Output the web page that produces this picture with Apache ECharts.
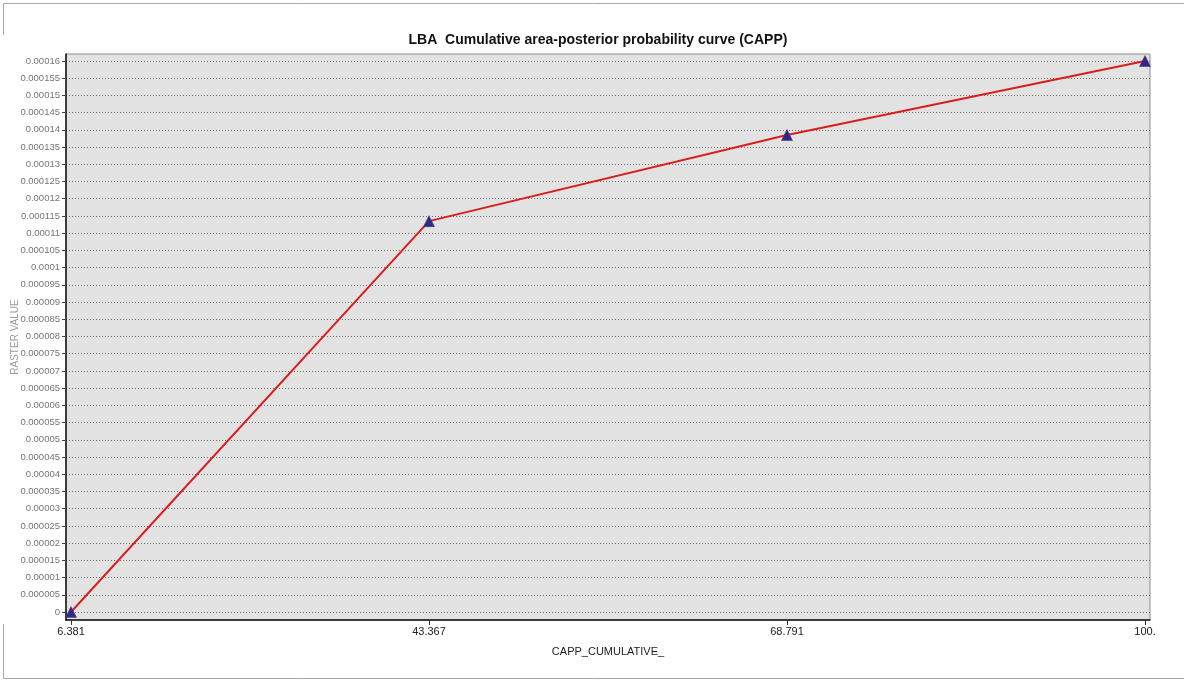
<!DOCTYPE html>
<html>
<head>
<meta charset="utf-8">
<script src="https://cdn.jsdelivr.net/npm/echarts@6/dist/echarts.min.js"></script>
<style>
  html, body { margin: 0; padding: 0; background: #ffffff; }
  #chart { width: 1184px; height: 680px; }
</style>
</head>
<body>
<div id="chart"></div>
<script>
// CAPP curve: cumulative area (category positions) against raster value
const capLabels = ['6.381', '43.367', '68.791', '100.'];
const rasterValues = [0, 0.0001135, 0.0001385, 0.00016];
const yTickLabels = [
  '0', '0.000005', '0.00001', '0.000015', '0.00002', '0.000025', '0.00003',
  '0.000035', '0.00004', '0.000045', '0.00005', '0.000055', '0.00006',
  '0.000065', '0.00007', '0.000075', '0.00008', '0.000085', '0.00009',
  '0.000095', '0.0001', '0.000105', '0.00011', '0.000115', '0.00012',
  '0.000125', '0.00013', '0.000135', '0.00014', '0.000145', '0.00015',
  '0.000155', '0.00016'
];

const yTickValues = yTickLabels.map(Number);
const xIndex = capLabels.map((_, i) => i);
const seriesData = rasterValues.map((v, i) => [i, v]);

const chart = echarts.init(document.getElementById('chart'), null, { renderer: 'canvas' });

const frameColor = '#a8a8a8';

chart.setOption({
  animation: false,
  backgroundColor: '#ffffff',
  textStyle: { fontFamily: 'Liberation Sans, Arial, sans-serif' },
  title: {
    text: 'LBA  Cumulative area-posterior probability curve (CAPP)',
    left: 593,
    textAlign: 'center',
    top: 28,
    textStyle: { fontSize: 14, fontWeight: 'bold', color: '#111111', fontFamily: 'Liberation Sans, Arial, sans-serif' }
  },
  graphic: [
    { type: 'line', shape: { x1: 3.5, y1: 3.5, x2: 1184, y2: 3.5 }, style: { stroke: frameColor, lineWidth: 1 }, silent: true },
    { type: 'line', shape: { x1: 3.5, y1: 3.5, x2: 3.5, y2: 35 }, style: { stroke: frameColor, lineWidth: 1 }, silent: true },
    { type: 'line', shape: { x1: 3.5, y1: 624, x2: 3.5, y2: 678.5 }, style: { stroke: frameColor, lineWidth: 1 }, silent: true },
    { type: 'line', shape: { x1: 3.5, y1: 678.5, x2: 1184, y2: 678.5 }, style: { stroke: frameColor, lineWidth: 1 }, silent: true }
  ],
  grid: {
    left: 66,
    right: 34,
    top: 54,
    bottom: 60,
    show: true,
    backgroundColor: '#e2e2e2',
    borderColor: '#8c8c8c',
    borderWidth: 1,
    containLabel: false,
    outerBoundsMode: 'none'
  },
  xAxis: {
    type: 'value',
    min: -0.014,
    max: 3.014,
    name: 'CAPP_CUMULATIVE_',
    nameLocation: 'middle',
    nameGap: 26,
    nameMoveOverlap: false,
    nameTextStyle: { fontSize: 11, color: '#222222' },
    axisLine: { show: true, onZero: false, lineStyle: { color: '#111111', width: 1.5 } },
    axisTick: { show: true, length: 5, inside: false, customValues: xIndex, lineStyle: { color: '#333333' } },
    axisLabel: {
      customValues: xIndex,
      margin: 6,
      fontSize: 11,
      color: '#222222',
      formatter: (v) => capLabels[Math.round(v)]
    },
    splitLine: { show: false }
  },
  yAxis: {
    type: 'value',
    min: -0.00000232,
    max: 0.00016203,
    name: 'RASTER VALUE',
    nameLocation: 'middle',
    nameGap: 46,
    nameMoveOverlap: false,
    nameRotate: 90,
    nameTextStyle: { fontSize: 10, color: '#9a9a9a' },
    axisLine: { show: true, onZero: false, lineStyle: { color: '#111111', width: 1.5 } },
    axisTick: { show: true, length: 4, inside: false, customValues: yTickValues, lineStyle: { color: '#444444' } },
    axisLabel: {
      customValues: yTickValues,
      margin: 6,
      fontSize: 9.5,
      color: '#767676',
      formatter: (v) => {
        const i = yTickValues.findIndex(t => Math.abs(t - v) < 1e-12);
        return i >= 0 ? yTickLabels[i] : '';
      }
    },
    splitLine: { show: true, lineStyle: { color: '#6e6e6e', type: [1, 2], width: 1 } }
  },
  series: [{
    type: 'line',
    data: seriesData,
    lineStyle: { color: '#d81e1e', width: 2 },
    symbol: 'triangle',
    symbolSize: 11,
    itemStyle: { color: '#2b2a86', borderColor: '#5a2a6a', borderWidth: 0.5 },
    z: 3
  }]
});
</script>
</body>
</html>
